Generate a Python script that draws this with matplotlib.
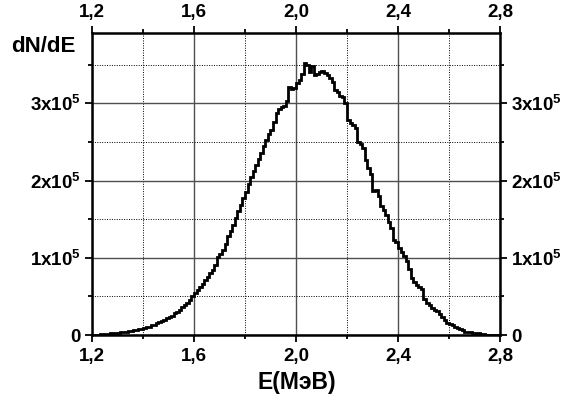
import numpy as np
import matplotlib
matplotlib.use("Agg")
import matplotlib.pyplot as plt
from matplotlib.ticker import MultipleLocator, FuncFormatter

plt.rcParams["font.family"] = ["Liberation Sans", "DejaVu Sans"]
plt.rcParams["font.weight"] = "bold"
plt.rcParams["mathtext.fontset"] = "custom"
plt.rcParams["mathtext.rm"] = "Liberation Sans:bold"
plt.rcParams["mathtext.bf"] = "Liberation Sans:bold"
plt.rcParams["mathtext.it"] = "Liberation Sans:bold"

# energy bins, MeV (0.01 MeV wide)
e_min, e_max, n_bins = 1.2, 2.8, 160
edges = np.linspace(e_min, e_max, n_bins + 1)

# counts per bin, in units of 1e5
counts_1e5 = [
    0.000, 0.000, 0.005, 0.008, 0.010, 0.012, 0.018, 0.020, 0.024, 0.028,
    0.031, 0.036, 0.040, 0.045, 0.050, 0.055, 0.060, 0.068, 0.072, 0.078,
    0.090, 0.105, 0.100, 0.125, 0.135, 0.150, 0.165, 0.180, 0.195, 0.215,
    0.235, 0.250, 0.280, 0.300, 0.330, 0.360, 0.390, 0.420, 0.450, 0.500,
    0.540, 0.580, 0.620, 0.660, 0.710, 0.750, 0.800, 0.840, 0.910, 1.010,
    1.050, 1.100, 1.180, 1.280, 1.350, 1.430, 1.520, 1.600, 1.680, 1.780,
    1.850, 1.950, 2.040, 2.120, 2.200, 2.280, 2.350, 2.450, 2.520, 2.600,
    2.660, 2.760, 2.880, 2.920, 2.950, 2.970, 3.030, 3.210, 3.180, 3.200,
    3.260, 3.300, 3.380, 3.520, 3.490, 3.410, 3.480, 3.360, 3.380, 3.400,
    3.420, 3.390, 3.370, 3.330, 3.280, 3.170, 3.140, 3.100, 3.080, 3.010,
    2.780, 2.750, 2.720, 2.680, 2.500, 2.470, 2.420, 2.270, 2.160, 2.080,
    1.860, 1.880, 1.800, 1.670, 1.620, 1.550, 1.460, 1.380, 1.230, 1.200,
    1.130, 1.080, 1.020, 0.960, 0.860, 0.740, 0.680, 0.650, 0.620, 0.590,
    0.460, 0.420, 0.390, 0.350, 0.330, 0.310, 0.270, 0.230, 0.190, 0.160,
    0.140, 0.130, 0.100, 0.085, 0.075, 0.065, 0.045, 0.040, 0.035, 0.032,
    0.030, 0.025, 0.015, 0.010, 0.006, 0.004, 0.002, 0.001, 0.000, 0.000,
]
counts = np.array(counts_1e5) * 1e5


def y_label(v, pos):
    if abs(v) < 1:
        return "0"
    return r"$\mathbf{%dx10^{5}}$" % round(v / 1e5)


fig = plt.figure(figsize=(5.69, 4.0), dpi=100)
ax = fig.add_axes([0.1617, 0.1625, 0.717, 0.755])

ax.stairs(counts, edges, color="black", linewidth=2.0, baseline=None)

ax.set_xlim(e_min, e_max)
ax.set_ylim(0, 3.91e5)

ax.xaxis.set_major_locator(MultipleLocator(0.4))
ax.xaxis.set_minor_locator(MultipleLocator(0.2))
ax.yaxis.set_major_locator(MultipleLocator(1e5))
ax.yaxis.set_minor_locator(MultipleLocator(0.5e5))
ax.xaxis.set_major_formatter(FuncFormatter(lambda v, p: f"{v:.1f}".replace(".", ",")))
ax.yaxis.set_major_formatter(FuncFormatter(y_label))

ax.grid(which="major", color="#505050", linestyle="-", linewidth=1.0)
ax.grid(which="minor", color="black", linestyle=(0, (1, 1.5)), linewidth=0.7)
ax.set_axisbelow(True)

ax.tick_params(which="both", direction="out", top=True, right=True,
               labeltop=True, labelright=True, width=1.3, colors="black")
ax.tick_params(which="major", length=5, labelsize=13.5)
ax.tick_params(axis="x", which="major", pad=4)
ax.tick_params(axis="y", which="major", pad=3)
ax.tick_params(which="minor", length=3)
for lab in ax.get_xticklabels() + ax.get_yticklabels():
    lab.set_fontweight("bold")

for sp in ax.spines.values():
    sp.set_linewidth(1.8)

fig.text(297 / 569, 1 - 382 / 400, "E(МэВ)", ha="center", va="center",
         fontsize=16.5, fontweight="bold")
fig.text(76 / 569, 1 - 46 / 400, "dN/dE", ha="right", va="center",
         fontsize=16, fontweight="bold")

fig.savefig("out.png", dpi=100)
